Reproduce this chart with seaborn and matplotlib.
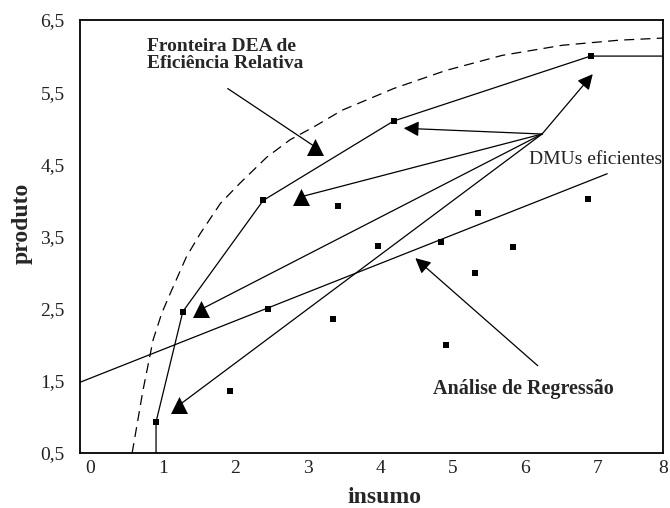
import matplotlib
matplotlib.use("Agg")
import matplotlib.pyplot as plt
import matplotlib.transforms as mtransforms
import seaborn as sns

# ---------------- data ----------------
frontier_x = [1.0, 1.0, 1.37, 2.48, 4.28, 7.0, 8.0]
frontier_y = [0.5, 0.93, 2.46, 4.00, 5.10, 6.00, 6.00]

efficient_x = [1.0, 1.37, 2.48, 4.28, 7.0]
efficient_y = [0.93, 2.46, 4.00, 5.10, 6.00]

other_x = [2.02, 2.55, 3.44, 3.51, 4.07, 4.94, 5.00, 5.40, 5.45, 5.93, 6.97]
other_y = [1.36, 2.49, 2.35, 3.92, 3.37, 3.42, 2.00, 2.99, 3.83, 3.36, 4.02]

curve_x = [0.67, 0.82, 0.96, 1.08, 1.20, 1.42, 1.61, 1.89, 2.16, 2.53, 2.85,
           3.18, 3.57, 4.28, 5.00, 5.78, 6.61, 7.39, 8.0]
curve_y = [0.50, 1.37, 2.07, 2.44, 2.72, 3.22, 3.54, 3.96, 4.24, 4.60, 4.84,
           5.02, 5.25, 5.55, 5.80, 6.01, 6.15, 6.22, 6.25]

reg_x = [-0.05, 7.23]
reg_y = [1.48, 4.37]

triangle_x = [3.20, 3.00, 1.62, 1.32]
triangle_y = [4.74, 4.05, 2.49, 1.165]

hub = (6.33, 4.92)
hub_line_targets = [(3.00, 4.05), (1.62, 2.49), (1.32, 1.165)]
hub_arrow_targets = [(4.42, 5.00), (7.03, 5.75)]

fronteira_tail = (1.99, 5.55)
fronteira_head = (3.20, 4.74)
regressao_tail = (6.27, 1.71)
regressao_head = (4.58, 3.20)

x_ticks = [0, 1, 2, 3, 4, 5, 6, 7, 8]
y_ticks = [0.5, 1.5, 2.5, 3.5, 4.5, 5.5, 6.5]
y_tick_labels = ["0,5", "1,5", "2,5", "3,5", "4,5", "5,5", "6,5"]

label_fronteira = "Fronteira DEA de\nEficiência Relativa"
label_dmus = "DMUs eficientes"
label_regressao = "Análise de Regressão"
x_label = "insumo"
y_label = "produto"

# ---------------- figure ----------------
sns.set_theme(style="white")
plt.rcParams["font.family"] = ["Liberation Serif", "DejaVu Serif"]

fig = plt.figure(figsize=(6.7, 5.08), dpi=100)
ax = fig.add_axes([80 / 670, 1 - 453 / 508, 583 / 670, 433 / 508])

lw = 0.9

# dashed curve
sns.lineplot(x=curve_x, y=curve_y, ax=ax, sort=False, estimator=None,
             color="black", linewidth=lw, linestyle=(0, (8, 5)))
# DEA frontier
sns.lineplot(x=frontier_x, y=frontier_y, ax=ax, sort=False, estimator=None,
             color="black", linewidth=lw)
# regression line
sns.lineplot(x=reg_x, y=reg_y, ax=ax, sort=False, estimator=None,
             color="black", linewidth=lw)

# lines from the DMU hub to the triangles
for tx, ty in hub_line_targets:
    sns.lineplot(x=[hub[0], tx], y=[hub[1], ty], ax=ax, sort=False,
                 estimator=None, color="black", linewidth=lw)
# fronteira pointer line
sns.lineplot(x=[fronteira_tail[0], fronteira_head[0]],
             y=[fronteira_tail[1], fronteira_head[1]], ax=ax, sort=False,
             estimator=None, color="black", linewidth=lw)

# arrows with arrowheads
for tx, ty in hub_arrow_targets:
    ax.annotate("", xy=(tx, ty), xytext=hub,
                arrowprops=dict(arrowstyle="-|>", color="black", lw=lw,
                                mutation_scale=23, shrinkA=0, shrinkB=0))
ax.annotate("", xy=regressao_head, xytext=regressao_tail,
            arrowprops=dict(arrowstyle="-|>", color="black", lw=lw,
                            mutation_scale=23, shrinkA=0, shrinkB=0))

# points
sns.scatterplot(x=efficient_x, y=efficient_y, ax=ax, color="black",
                marker="s", s=13, linewidth=0, zorder=5)
sns.scatterplot(x=other_x, y=other_y, ax=ax, color="black",
                marker="s", s=13, linewidth=0, zorder=5)
# triangles
sns.scatterplot(x=triangle_x, y=triangle_y, ax=ax, color="black",
                marker="^", s=150, linewidth=0, zorder=6)

# texts
ax.text(0.87, 6.01, label_fronteira, fontsize=14, fontweight="bold",
        ha="left", va="center", linespacing=1.0)
ax.text(6.15, 4.57, label_dmus, fontsize=14, ha="left", va="center",
        color="#222222")
ax.text(4.82, 1.39, label_regressao, fontsize=14.5, fontweight="bold",
        ha="left", va="center")

# axes styling
ax.set_xlim(-0.05, 8.0)
ax.set_ylim(0.5, 6.5)
ax.set_xticks(x_ticks)
ax.set_xticklabels([str(t) for t in x_ticks])
ax.set_yticks(y_ticks)
ax.set_yticklabels(y_tick_labels)
ax.tick_params(axis="x", direction="in", length=6, width=1.1, colors="black",
               labelsize=14, pad=5, labelcolor="#222222")
ax.tick_params(axis="y", length=0, labelsize=14, pad=11, labelcolor="#222222")
xlabels = ax.get_xticklabels()
for i, lab in enumerate(xlabels):
    shift = 7 if i < len(xlabels) - 1 else 0
    lab.set_transform(lab.get_transform() +
                      mtransforms.ScaledTranslation(shift / 100, 0, fig.dpi_scale_trans))

for sp in ax.spines.values():
    sp.set_visible(True)
    sp.set_color("black")
    sp.set_linewidth(1.3)

ax.set_xlabel(x_label, fontsize=17, fontweight="bold")
ax.set_ylabel(y_label, fontsize=17, fontweight="bold")
ax.xaxis.set_label_coords(0.523, -0.078)
ax.yaxis.set_label_coords(-0.082, 0.531)
ax.grid(False)

fig.savefig("out.png", dpi=100)
